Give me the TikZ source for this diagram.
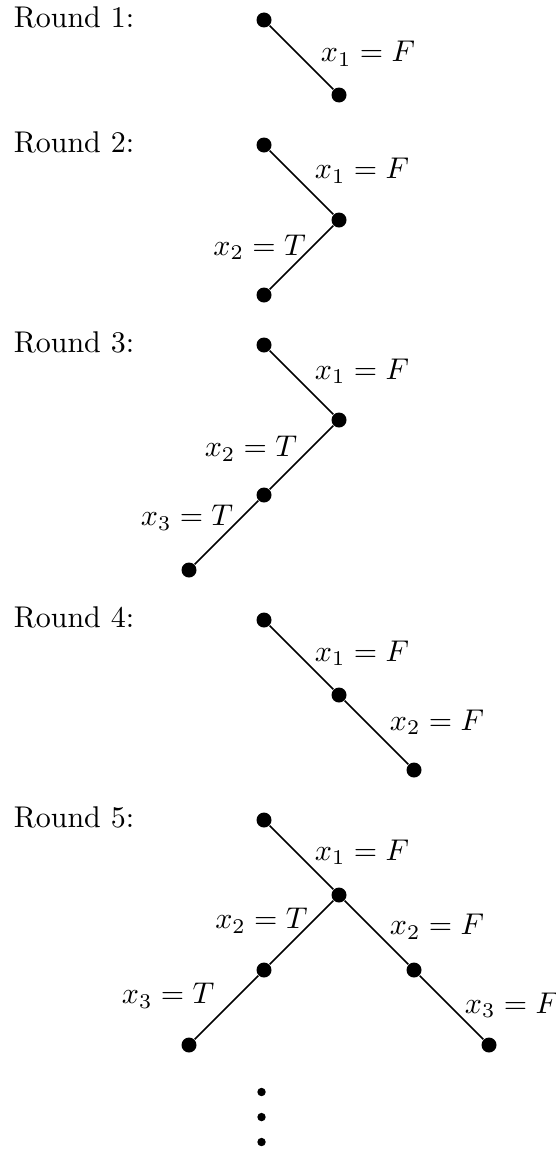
\documentclass[tikz,border=0pt]{standalone}
\tikzset{
  vtx/.style={circle, fill=black, inner sep=0pt, minimum size=5pt},
  vdot/.style={circle, fill=black, inner sep=0pt, minimum size=2.8pt},
  link/.style={line width=0.55pt},
  flbl/.style={anchor=west, inner sep=0pt, xshift=4.2pt},
  tlbl/.style={anchor=east, inner sep=0pt},
  roundlbl/.style={anchor=base west, inner sep=0pt}
}
\begin{document}
\begin{tikzpicture}[x=25pt, y=25pt]
  \useasboundingbox (-3.52,-15.053) rectangle (3.88,0.2667);
  \foreach \r/\yy in {1/0, 2/-1.6667, 3/-4.3333, 4/-8, 5/-10.6667}
    \node[roundlbl] (rd\r) at (-3.344,\yy-0.097) {Round \r:};
  % round 1
  \node[vtx] (a0) at (0,0) {};
  \node[vtx] (a1) at (1,-1) {};
  \draw[link] (a0) -- node[flbl, xshift=2pt, yshift=1.3pt] (a1l) {$x_1 = F$} (a1);
  % round 2
  \node[vtx] (b0) at (0,-1.6667) {};
  \node[vtx] (b1) at (1,-2.6667) {};
  \node[vtx] (b2) at (0,-3.6667) {};
  \draw[link] (b0) -- node[flbl, yshift=4pt] (b1l) {$x_1 = F$} (b1);
  \draw[link] (b1) -- node[tlbl, xshift=1.7pt, yshift=3.5pt] (b2l) {$x_2 = T$} (b2);
  % round 3
  \node[vtx] (c0) at (0,-4.3333) {};
  \node[vtx] (c1) at (1,-5.3333) {};
  \node[vtx] (c2) at (0,-6.3333) {};
  \node[vtx] (c3) at (-1,-7.3333) {};
  \draw[link] (c0) -- node[flbl, yshift=3.8pt] (c1l) {$x_1 = F$} (c1);
  \draw[link] (c1) -- node[tlbl, xshift=-1.2pt, yshift=3pt] (c2l) {$x_2 = T$} (c2);
  \draw[link] (c2) -- node[tlbl, xshift=2.5pt, yshift=5pt] (c3l) {$x_3 = T$} (c3);
  % round 4
  \node[vtx] (d0) at (0,-8) {};
  \node[vtx] (d1) at (1,-9) {};
  \node[vtx] (d2) at (2,-10) {};
  \draw[link] (d0) -- node[flbl, yshift=1.5pt] (d1l) {$x_1 = F$} (d1);
  \draw[link] (d1) -- node[flbl, yshift=3.5pt] (d2l) {$x_2 = F$} (d2);
  % round 5
  \node[vtx] (e0) at (0,-10.6667) {};
  \node[vtx] (e1) at (1,-11.6667) {};
  \node[vtx] (e2) at (0,-12.6667) {};
  \node[vtx] (e3) at (-1,-13.6667) {};
  \node[vtx] (e4) at (2,-12.6667) {};
  \node[vtx] (e5) at (3,-13.6667) {};
  \draw[link] (e0) -- node[flbl, yshift=1.8pt] (e1l) {$x_1 = F$} (e1);
  \draw[link] (e1) -- node[tlbl, xshift=2.3pt, yshift=4pt] (e2l) {$x_2 = T$} (e2);
  \draw[link] (e2) -- node[tlbl, xshift=-3.8pt, yshift=4pt] (e3l) {$x_3 = T$} (e3);
  \draw[link] (e1) -- node[flbl, yshift=2pt] (e4l) {$x_2 = F$} (e4);
  \draw[link] (e4) -- node[flbl, yshift=0.8pt] (e5l) {$x_3 = F$} (e5);
  \foreach \k/\yy in {1/-14.293, 2/-14.627, 3/-14.96}
    \node[vdot] (more\k) at (-0.033,\yy) {};
\end{tikzpicture}
\end{document}
